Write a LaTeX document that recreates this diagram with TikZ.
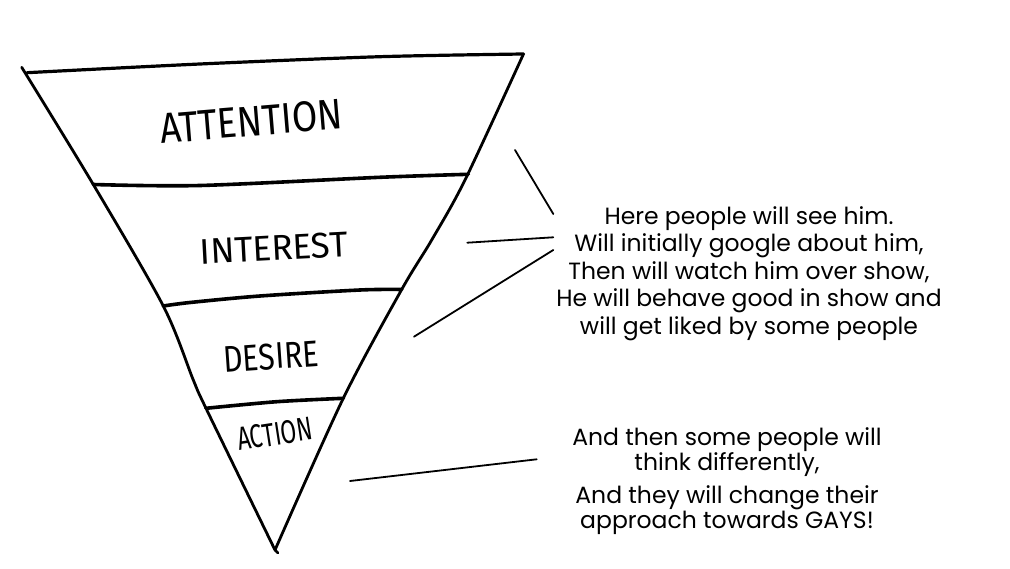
\documentclass[tikz,border=0pt]{standalone}
\usepackage{fontspec}
\newfontfamily\handfont{Fira Sans}
\newfontfamily\comicfont{Poppins}
\begin{document}
\begin{tikzpicture}[x=1pt,y=-1pt, line join=round, line cap=round,
  funnelside/.style={line width=2.8pt},
  divider/.style={line width=3.6pt},
  pointerline/.style={line width=1.8pt},
  handlabel/.style={inner sep=0pt},
  notetext/.style={inner sep=0pt, anchor=base, font=\comicfont\fontsize{23.5}{27.5}\selectfont}]
\useasboundingbox (0,0) rectangle (1010,569);
\fill[white] (0,0) rectangle (1010,569);

% funnel corners
\coordinate (tl) at (21.7,67.3);
\coordinate (topl) at (27,72.7);
\coordinate (tr) at (523.5,54);
\coordinate (apex) at (275,550);
\coordinate (apexend) at (278,553);
\coordinate (d1l) at (93.3,184.5);
\coordinate (d1r) at (468.3,174.3);
\coordinate (d2l) at (163.3,306);
\coordinate (d2r) at (401.7,289.5);
\coordinate (d3l) at (206,408.3);
\coordinate (d3r) at (343.3,398.3);

% sides
\draw[funnelside] plot[smooth] coordinates {(tl) (d1l) (d2l) (193.3,380) (d3l) (apex)};
\draw[funnelside] plot[smooth] coordinates {(tr) (465,180) (431.7,240) (d2r) (d3r) (apex)};
\draw[funnelside] (apex) -- (apexend);

% top and dividers
\draw[funnelside, line width=3.2pt] plot[smooth] coordinates {(topl) (200,64) (380,56.7) (tr)};
\draw[divider] plot[smooth] coordinates {(d1l) (200,185.5) (380,177.3) (d1r)};
\draw[divider] plot[smooth] coordinates {(d2l) (190,302.5) (260,296) (360,290) (d2r)};
\draw[divider] plot[smooth] coordinates {(d3l) (276.7,401.7) (d3r)};

% stage labels
\node[handlabel, rotate=4.7] (attention) at (251.5,121.5)
  {\resizebox{183pt}{30pt}{\handfont\addfontfeature{FakeStretch=0.85}\fontsize{43.5}{50}\selectfont ATTENTION}};
\node[handlabel, rotate=3] (interest) at (274,248)
  {\resizebox{148pt}{25pt}{\handfont\fontsize{36.3}{42}\selectfont INTEREST}};
\node[handlabel, rotate=4] (desire) at (271,356.5)
  {\resizebox{95pt}{26pt}{\handfont\addfontfeature{FakeStretch=0.81}\fontsize{37.7}{44}\selectfont DESIRE}};
\node[handlabel, rotate=8.7] (action) at (275,434)
  {\resizebox{76pt}{23pt}{\handfont\addfontfeature{FakeStretch=0.68}\fontsize{33.4}{40}\selectfont ACTION}};

% notes
\node[notetext] (n1) at (749,224.3) {Here people will see him.};
\node[notetext] (n2) at (749,251.7) {Will initially google about him,};
\node[notetext] (n3) at (749,279.2) {Then will watch him over show,};
\node[notetext] (n4) at (749,306.7) {He will behave good in show and};
\node[notetext] (n5) at (749,334.3) {will get liked by some people};
\node[notetext] (m1) at (727,445) {And then some people will};
\node[notetext] (m2) at (727,470) {think differently,};
\node[notetext] (m3) at (727,503.3) {And they will change their};
\node[notetext] (m4) at (727,528.3) {approach towards GAYS!};

% pointer lines
\coordinate (p1a) at (515,150);
\coordinate (p1b) at (553.3,214);
\coordinate (p2a) at (467.3,242.7);
\coordinate (p2b) at (553.3,237.3);
\coordinate (p3a) at (414,336.7);
\coordinate (p3b) at (553.3,250);
\coordinate (p4a) at (350,481);
\coordinate (p4b) at (536.7,459.3);
\draw[pointerline] (p1a) -- (p1b);
\draw[pointerline] (p2a) -- (p2b);
\draw[pointerline] (p3a) -- (p3b);
\draw[pointerline] (p4a) -- (p4b);
\end{tikzpicture}
\end{document}
